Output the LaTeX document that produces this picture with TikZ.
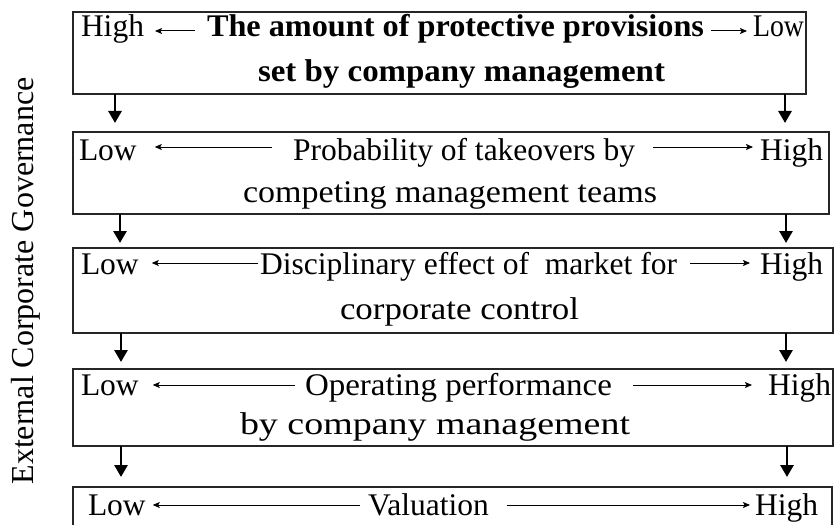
\documentclass[tikz,border=0pt]{standalone}
\usepackage{graphicx}
\usepackage{fontspec}
\setmainfont{Liberation Serif}
\usetikzlibrary{arrows.meta}
% set a line of text to a given width, keeping its height
\newcommand\fitto[2]{\resizebox{#1pt}{\height}{#2}}
\begin{document}
\begin{tikzpicture}[x=1pt,y=-1pt,
  box/.style={draw=black!85,line width=1.3pt,inner sep=0pt,outer sep=0pt,anchor=north west},
  lbl/.style={inner sep=0pt,outer sep=0pt,anchor=base west,font=\fontsize{31.5}{36}\selectfont},
  ttl/.style={lbl,font=\fontsize{31.5}{36}\selectfont\bfseries},
  vert/.style={line width=2.8pt,-{Triangle[length=12pt,width=13pt]}},
  harr/.style={line width=1pt,-{Stealth[length=7pt,width=6pt,inset=1.5pt]}}]
\useasboundingbox (0,0) rectangle (834,524);
\clip (0,0) rectangle (834,524);

% side caption
\node[rotate=90,anchor=base,inner sep=0pt,font=\fontsize{32}{36}\selectfont] (side) at (33,281) {External Corporate Governance};

% boxes
\node[box,minimum width=733pt,minimum height=82pt] (b1) at (73,12) {};
\node[box,minimum width=756pt,minimum height=82pt] (b2) at (73,132) {};
\node[box,minimum width=760pt,minimum height=85pt] (b3) at (73,248) {};
\node[box,minimum width=760pt,minimum height=77pt] (b4) at (73,369) {};
\node[box,minimum width=759pt,minimum height=70pt] (b5) at (73,487) {};

% flow between boxes
\draw[vert] ([xshift=42pt]b1.south west) -- ([xshift=42pt,yshift=9pt]b2.north west);
\draw[vert] ([xshift=712pt]b1.south west) -- ([xshift=712pt,yshift=9pt]b2.north west);
\draw[vert] ([xshift=47pt]b2.south west) -- ([xshift=47pt,yshift=5pt]b3.north west);
\draw[vert] ([xshift=713pt]b2.south west) -- ([xshift=713pt,yshift=5pt]b3.north west);
\draw[vert] ([xshift=48pt]b3.south west) -- ([xshift=48pt,yshift=7pt]b4.north west);
\draw[vert] ([xshift=713pt]b3.south west) -- ([xshift=713pt,yshift=7pt]b4.north west);
\draw[vert] ([xshift=48pt]b4.south west) -- ([xshift=48pt,yshift=10pt]b5.north west);
\draw[vert] ([xshift=714pt]b4.south west) -- ([xshift=714pt,yshift=10pt]b5.north west);

% box 1
\node[lbl] (h1) at (81,37) {High};
\node[ttl] (t1) at (207,37) {\fitto{497}{The amount of protective provisions}};
\node[lbl] (l1) at (753,37) {\fitto{51}{Low}};
\node[ttl] (t1b) at (258,82) {\fitto{407}{set by company management}};
\draw[harr] ([shift={(-12,-6)}]t1.base west) -- ([shift={(11,-6)}]h1.base east);
\draw[harr] ([shift={(7,-6)}]t1.base east) -- ([shift={(-6,-6)}]l1.base west);

% box 2
\node[lbl] (l2) at (79,160) {Low};
\node[lbl] (t2) at (293,160) {\fitto{342}{Probability of takeovers by}};
\node[lbl] (h2) at (760,160) {High};
\node[lbl] (t2b) at (243,202) {\fitto{414}{competing management teams}};
\draw[harr] ([shift={(-21,-13)}]t2.base west) -- ([shift={(18,-13)}]l2.base east);
\draw[harr] ([shift={(18,-13)}]t2.base east) -- ([shift={(-7,-13)}]h2.base west);

% box 3
\node[lbl] (l3) at (81,274) {Low};
\node[lbl] (t3) at (260,274) {\fitto{417}{Disciplinary effect of\ \ market for}};
\node[lbl] (h3) at (760,274) {High};
\node[lbl] (t3b) at (340,319) {\fitto{239}{corporate control}};
\draw[harr] ([shift={(-2,-11)}]t3.base west) -- ([shift={(13,-11)}]l3.base east);
\draw[harr] ([shift={(13,-11)}]t3.base east) -- ([shift={(-10,-11)}]h3.base west);

% box 4
\node[lbl] (l4) at (81,395) {Low};
\node[lbl] (t4) at (305,395) {\fitto{307}{Operating performance}};
\node[lbl] (h4) at (768,395) {High};
\node[lbl] (t4b) at (240,434) {\fitto{390}{by company management}};
\draw[harr] ([shift={(-10,-10)}]t4.base west) -- ([shift={(14,-10)}]l4.base east);
\draw[harr] ([shift={(21,-10)}]t4.base east) -- ([shift={(-16,-10)}]h4.base west);

% box 5
\node[lbl] (l5) at (88,515) {Low};
\node[lbl] (t5) at (368,515) {Valuation};
\node[lbl] (h5) at (755,515) {High};
\draw[harr] ([shift={(-8,-10)}]t5.base west) -- ([shift={(7,-10)}]l5.base east);
\draw[harr] ([shift={(18,-10)}]t5.base east) -- ([shift={(-5,-10)}]h5.base west);
\end{tikzpicture}
\end{document}
